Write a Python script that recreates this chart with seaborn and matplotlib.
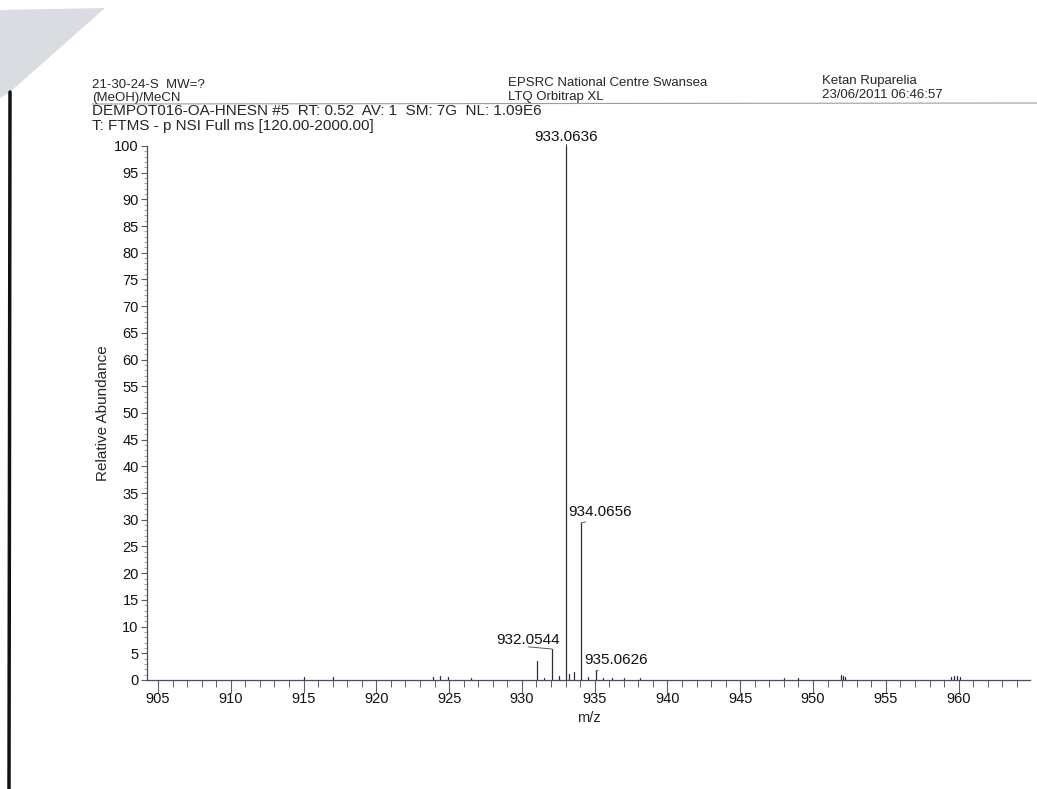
import pandas as pd
import numpy as np
import matplotlib.pyplot as plt
import seaborn as sns
from matplotlib.ticker import MultipleLocator
from matplotlib.patches import Polygon
from matplotlib.lines import Line2D

# peak list (m/z, relative abundance)
mz = [915.0, 917.0, 923.9, 924.4, 924.9, 926.5,
      931.05, 931.5, 932.0544, 932.55, 933.0636, 933.25, 933.55,
      934.0656, 934.55, 935.0626, 935.55, 936.2, 937.0, 938.1,
      948.0, 949.0, 951.95, 952.05, 952.2, 959.5, 959.7, 959.9, 960.1]
abundance = [0.6, 0.5, 0.5, 0.8, 0.5, 0.3,
             3.5, 0.4, 5.8, 0.7, 100.0, 1.2, 1.5,
             29.4, 0.5, 1.7, 0.4, 0.3, 0.3, 0.3,
             0.3, 0.3, 1.0, 0.8, 0.5, 0.6, 0.8, 0.7, 0.6]

# labelled peaks and where their labels sit
label_mz = [933.0636, 934.0656, 932.0544, 935.0626]
label_ab = [100.0, 29.4, 5.8, 1.7]
label_pos = [(933.0636, 100.3), (935.4, 30.2), (930.45, 6.2), (936.5, 2.4)]

header_left = ['21-30-24-S  MW=?', '(MeOH)/MeCN']
header_mid = ['EPSRC National Centre Swansea', 'LTQ Orbitrap XL']
header_right = ['Ketan Ruparelia', '23/06/2011 06:46:57']
scan_line = 'DEMPOT016-OA-HNESN #5  RT: 0.52  AV: 1  SM: 7G  NL: 1.09E6'
filter_line = 'T: FTMS - p NSI Full ms [120.00-2000.00]'

# stick spectrum: each peak is a two-point line from 0 to its height
rows = []
for i, (m, a) in enumerate(zip(mz, abundance)):
    rows.append({'peak': i, 'mz': m, 'ab': 0.0})
    rows.append({'peak': i, 'mz': m, 'ab': a})
df = pd.DataFrame(rows)

sns.set_style('ticks')
plt.rcParams['font.family'] = ['Liberation Sans', 'DejaVu Sans']
ink = '#2b2d3a'

fig = plt.figure(figsize=(10.37, 7.89), dpi=100)
ax = fig.add_axes([0.1418, 0.1382, 0.8514, 0.6768])

sns.lineplot(data=df, x='mz', y='ab', units='peak', estimator=None,
             sort=False, color=ink, linewidth=0.9, ax=ax, legend=False)

ax.set_xlim(904.25, 964.9)
ax.set_ylim(0, 100)
ax.xaxis.set_major_locator(MultipleLocator(5))
ax.xaxis.set_minor_locator(MultipleLocator(1))
ax.yaxis.set_major_locator(MultipleLocator(5))
ax.yaxis.set_minor_locator(MultipleLocator(1))
ax.tick_params(axis='x', which='major', length=9, width=0.8, color='#5a5f70',
               labelsize=10.5, pad=0, labelcolor='#111111')
ax.tick_params(axis='x', which='minor', length=5, width=0.7, color='#5a5f70')
ax.tick_params(axis='y', which='major', length=4, width=0.8, color='#5a5f70',
               labelsize=10.5, pad=2, labelcolor='#111111')
ax.tick_params(axis='y', which='minor', length=2.5, width=0.5, color='#7a7f90')
sns.despine(ax=ax)
for s in ['left', 'bottom']:
    ax.spines[s].set_color('#4a4e5e')
    ax.spines[s].set_linewidth(0.9)

ax.set_xlabel('m/z', fontsize=10.5, labelpad=3)
ax.set_ylabel('Relative Abundance', fontsize=11, labelpad=3)
ax.patch.set_alpha(0)

for m, a, (tx, ty) in zip(label_mz, label_ab, label_pos):
    ax.annotate(f'{m:.4f}', xy=(m, a), xytext=(tx, ty), textcoords='data',
                ha='center', va='bottom', fontsize=11, color='#111111',
                annotation_clip=False,
                arrowprops=dict(arrowstyle='-', color='#55596a', lw=0.7,
                                shrinkA=0, shrinkB=0, relpos=(0.5, 0)))

# header block
fig.text(92 / 1037, 1 - 85 / 789, header_left[0], fontsize=9.5, va='center')
fig.text(92 / 1037, 1 - 98 / 789, header_left[1], fontsize=9.5, va='center')
fig.text(508 / 1037, 1 - 83 / 789, header_mid[0], fontsize=9.5, va='center')
fig.text(508 / 1037, 1 - 97 / 789, header_mid[1], fontsize=9.5, va='center')
fig.text(822 / 1037, 1 - 81 / 789, header_right[0], fontsize=9.5, va='center')
fig.text(822 / 1037, 1 - 95 / 789, header_right[1], fontsize=9.5, va='center')
fig.text(92 / 1037, 1 - 111 / 789, scan_line, fontsize=11, va='center')
fig.text(92 / 1037, 1 - 126 / 789, filter_line, fontsize=11, va='center')
fig.add_artist(Line2D([92 / 1037, 1.0], [1 - 104 / 789, 1 - 103 / 789],
                      color='#9a9ca8', lw=0.8))

# scanned page edge: folded grey corner and dark left border
fig.add_artist(Polygon([(0, 1 - 10 / 789), (105 / 1037, 1 - 8 / 789),
                        (10 / 1037, 1 - 92 / 789), (0, 1 - 98 / 789)],
                       closed=True, facecolor='#d9dce0', edgecolor='none'))
fig.add_artist(Line2D([10 / 1037, 9 / 1037], [1 - 92 / 789, 0.0],
                      color='#111111', lw=2.5))

plt.savefig('out.png', dpi=100)
